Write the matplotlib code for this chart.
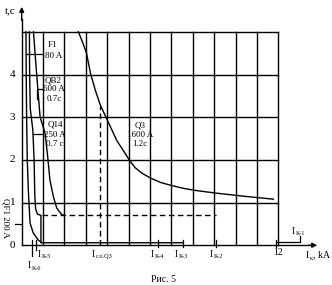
import matplotlib
matplotlib.use("Agg")
import matplotlib.pyplot as plt
import numpy as np

plt.rcParams['font.family'] = ['Liberation Serif', 'DejaVu Serif']

# curve data (current in kA, time in s)
f1_i = [0.20, 0.21, 0.23, 0.26, 0.31, 0.39, 0.54, 0.78, 0.94]
f1_t = [5.0, 4.0, 3.0, 2.0, 1.29, 0.52, 0.29, 0.12, 0.06]

qb2_i = [0.36, 0.37, 0.40, 0.52, 0.58, 0.61, 0.65, 0.74, 0.90, 0.90, 7.53]
qb2_t = [5.0, 4.0, 3.2, 2.7, 2.0, 1.2, 0.85, 0.73, 0.70, 0.06, 0.06]

q14_i = [0.55, 0.70, 0.86, 1.00, 1.10, 1.21, 1.32, 1.48, 1.64, 1.87, 2.00]
q14_t = [5.0, 4.0, 3.0, 2.78, 2.60, 2.10, 1.53, 1.14, 0.87, 0.72, 0.70]

q3_i = [2.65, 2.85, 3.03, 3.22, 3.45, 3.68, 3.94, 4.20, 4.45, 4.75, 5.03, 5.30,
        5.62, 6.00, 6.50, 7.09, 7.60, 8.19, 9.12, 10.37, 11.77]
q3_t = [5.0, 4.75, 4.50, 4.02, 3.62, 3.28, 3.0, 2.72, 2.45, 2.22, 2.0, 1.82,
        1.69, 1.58, 1.47, 1.39, 1.33, 1.28, 1.22, 1.15, 1.08]

t_sel = 0.7          # selective delay line
i_so_q3 = 3.66       # Ico Q3
t_so_q3 = 3.26
i_k6, i_k5 = 0.47, 0.67
i_k4, i_k3, i_k2, i_k1 = 6.36, 7.53, 9.09, 11.88
qf1_t = 0.5

y_ticks = [0, 1, 2, 3, 4]
x_grid = list(range(0, 13))
t_grid = [1, 2, 3, 4, 5]

fig = plt.figure(figsize=(3.32, 2.85), dpi=100)
ax = fig.add_axes([0, 0, 1, 1])
ax.set_xlim(-1.015, 14.51)
ax.set_ylim(-0.93, 5.745)
ax.axis('off')

# grid
for x in x_grid[1:]:
    ax.plot([x, x], [0, 5], color='k', lw=1.0)
for t in t_grid:
    ax.plot([0, 12], [t, t], color='k', lw=1.0)

# axes with arrows
ax.plot([0, 13.5], [0, 0], color='k', lw=1.0)
ax.plot([0, 0], [0, 5.3], color='k', lw=1.0)
ax.annotate('', xy=(13.95, 0), xytext=(13.3, 0),
            arrowprops=dict(arrowstyle='-|>', color='k', lw=1, mutation_scale=7))
ax.annotate('', xy=(0, 5.65), xytext=(0, 5.2),
            arrowprops=dict(arrowstyle='-|>', color='k', lw=1, mutation_scale=7))

for t in y_ticks:
    ax.text(-0.42, t, str(t), fontsize=8, ha='center', va='center')
ax.text(-0.55, 5.5, 't,c', fontsize=8, ha='center', va='center')

# curves
ax.plot(f1_i, f1_t, color='k', lw=1.0)
ax.plot(qb2_i, qb2_t, color='k', lw=1.0)
ax.plot(q14_i, q14_t, color='k', lw=1.0)
ax.plot(q3_i, q3_t, color='k', lw=1.0)

# dashed lines
ax.plot([0.95, i_k2], [t_sel, t_sel], color='k', lw=1.0, ls=(0, (4, 2.5)))
ax.plot([i_so_q3, i_so_q3], [0, t_so_q3], color='k', lw=1.0, ls=(0, (4, 2.5)))

# leaders
ax.plot([0.22, 1.0], [4.48, 4.48], color='k', lw=0.9)
ax.plot([0.72, 0.72, 1.0], [3.42, 3.66, 3.66], color='k', lw=0.9)
ax.plot([0.54, 1.0], [2.6, 2.6], color='k', lw=0.9)
ax.plot([-0.33, 0], [qf1_t, qf1_t], color='k', lw=0.9)

fs = 6.5
ax.text(1.45, 4.69, 'F1', fontsize=fs, ha='center', va='center')
ax.text(1.5, 4.43, '80 A', fontsize=fs, ha='center', va='center')
ax.text(1.45, 3.87, 'QB2', fontsize=fs, ha='center', va='center')
ax.text(1.5, 3.65, '600 A', fontsize=fs, ha='center', va='center')
ax.text(1.5, 3.42, '0.7c', fontsize=fs, ha='center', va='center')
ax.text(1.56, 2.82, 'Q14', fontsize=fs, ha='center', va='center')
ax.text(1.56, 2.59, '250 A', fontsize=fs, ha='center', va='center')
ax.text(1.56, 2.37, '0.7 c', fontsize=fs, ha='center', va='center')
ax.text(5.54, 2.80, 'Q3', fontsize=fs, ha='center', va='center')
ax.text(5.54, 2.58, '1600 A', fontsize=fs, ha='center', va='center')
ax.text(5.54, 2.37, '1.2c', fontsize=fs, ha='center', va='center')
ax.text(-0.76, 0.64, 'QF1 200 A', fontsize=fs, ha='center', va='center', rotation=270)

# bottom ticks
ax.plot([i_k6, i_k6], [0.12, -0.25], color='k', lw=0.9)
ax.plot([i_k5, i_k5], [0.12, -0.12], color='k', lw=0.9)
for x in [i_k4, i_k3, i_k2, i_k1]:
    ax.plot([x, x], [0.12, -0.05], color='k', lw=0.9)
ax.plot([i_k1, 13.0, 13.0], [0.08, 0.08, 0.22], color='k', lw=0.9)


def cur_label(x, t, sub, extra=''):
    ax.text(x, t, 'I', fontsize=7, ha='left', va='baseline')
    ax.annotate(sub + extra, (x, t), xytext=(2.6, -1.2), textcoords='offset points',
                fontsize=4.5, ha='left', va='baseline')


cur_label(0.29, -0.53, 'К-6')
cur_label(0.75, -0.27, 'К-5')
cur_label(3.29, -0.27, 'с.о.Q3')
cur_label(6.05, -0.27, 'К-4')
cur_label(7.17, -0.27, 'К-3')
cur_label(8.81, -0.27, 'К-2')
cur_label(12.64, 0.27, 'К-1')
ax.text(12.0, -0.16, '12', fontsize=7, ha='center', va='center')
ax.text(13.3, -0.29, 'I', fontsize=7, ha='left', va='baseline')
ax.annotate('к', (13.3, -0.29), xytext=(2.6, -1.5), textcoords='offset points',
            fontsize=4.5, ha='left', va='baseline')
ax.annotate(', kA', (13.3, -0.29), xytext=(5.2, 0), textcoords='offset points',
            fontsize=7, ha='left', va='baseline')
ax.text(6.61, -0.81, 'Рис. 5', fontsize=7, ha='center', va='center')

fig.savefig('out.png', dpi=100)
